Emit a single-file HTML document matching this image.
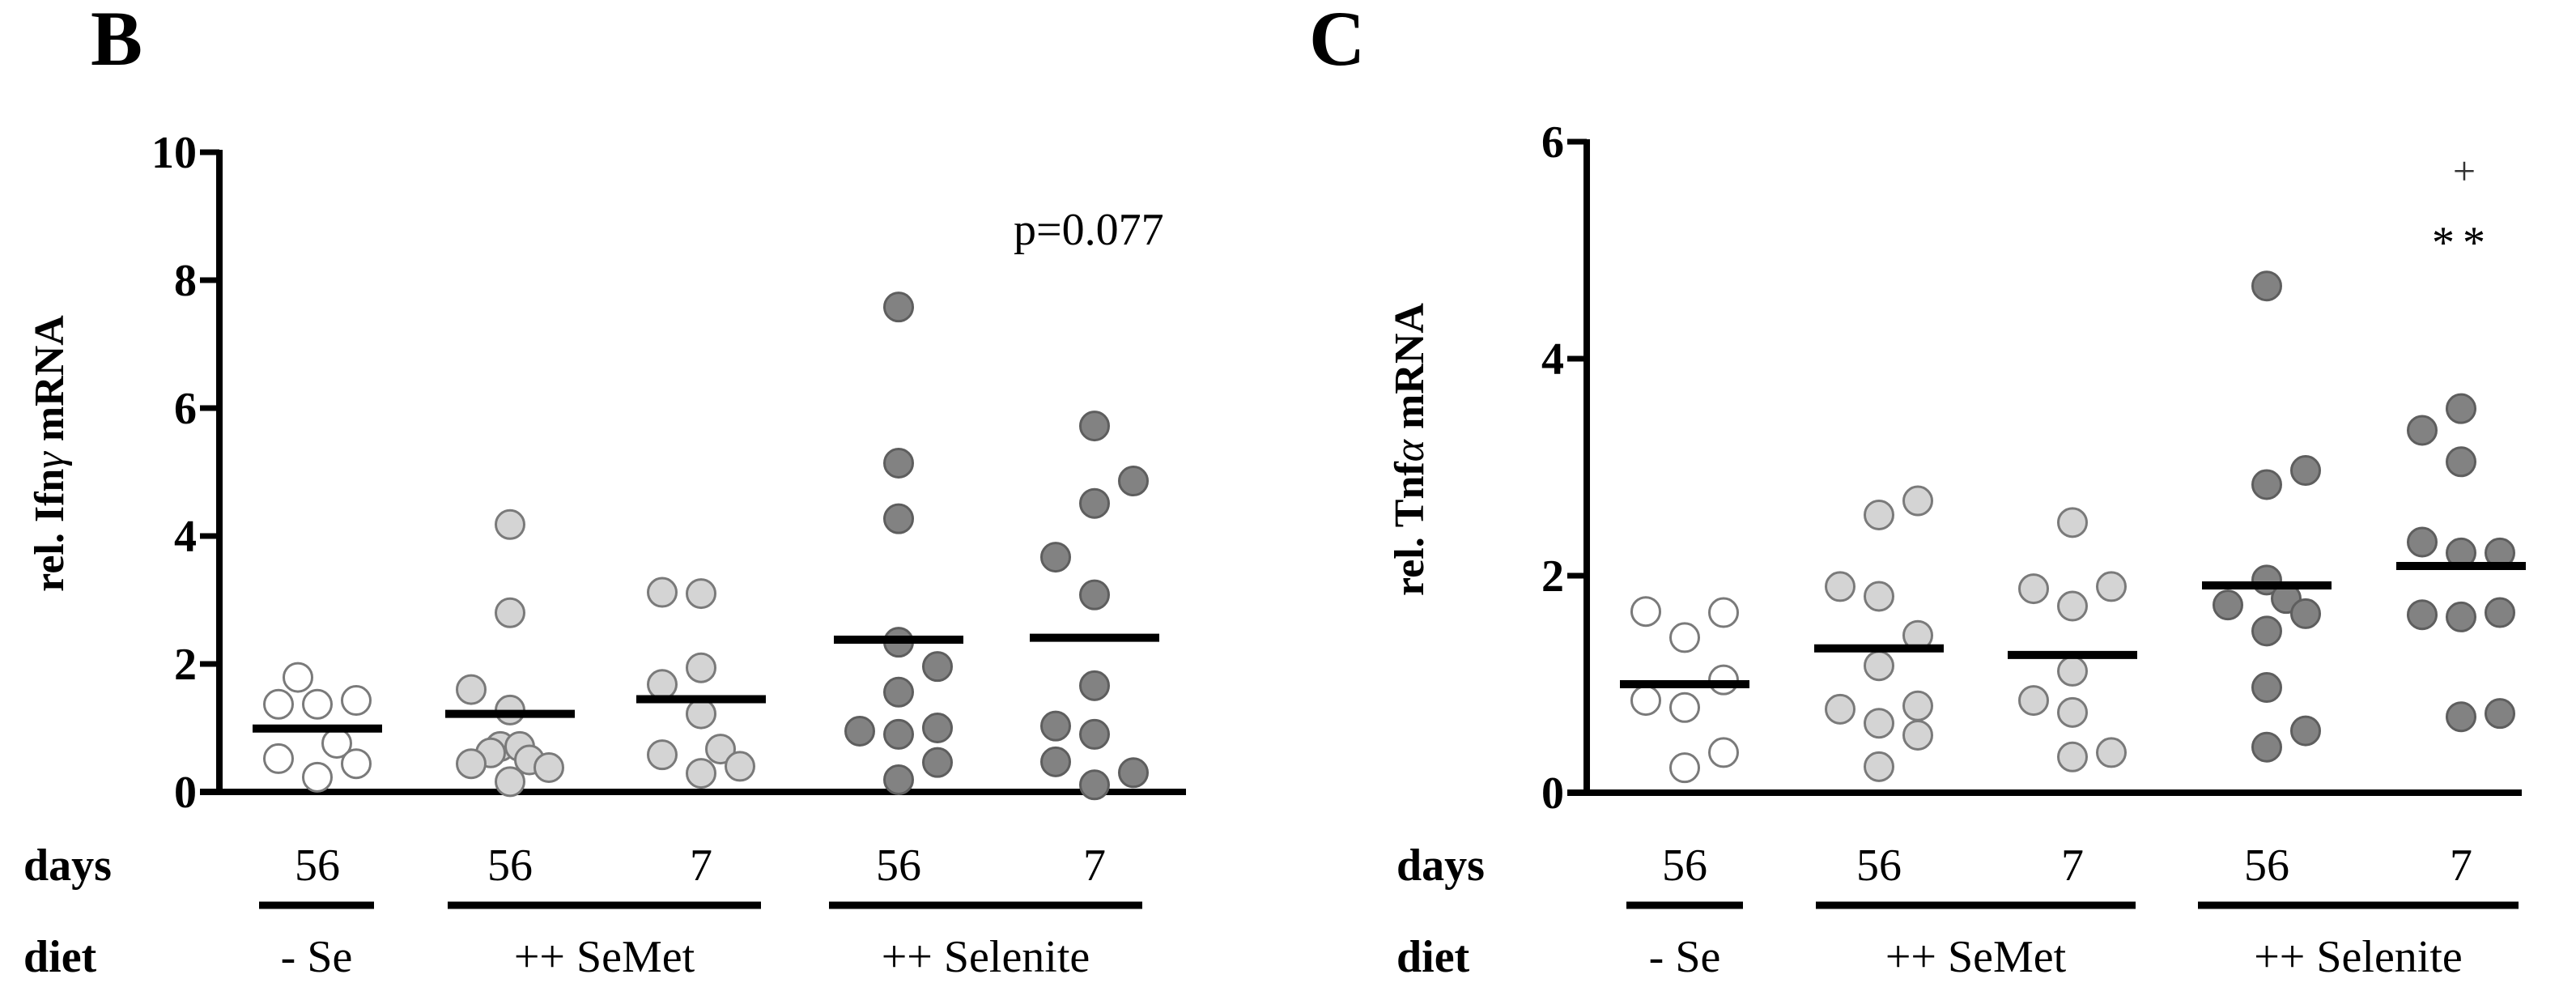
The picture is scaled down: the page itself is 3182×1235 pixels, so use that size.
<!DOCTYPE html>
<html><head><meta charset="utf-8">
<style>
html,body{margin:0;padding:0;background:#fff;}
svg{display:block;font-family:"Liberation Serif",serif;}
</style></head>
<body>
<svg id="fig" width="3182" height="1235" viewBox="0 0 3182 1235" xmlns="http://www.w3.org/2000/svg">
<rect width="3182" height="1235" fill="#fff"/>
<g id="panelB"></g>
<g id="panelC"></g>
</svg>
<script>
// ---- shared categories ----
const groupDays = ["56","56","7","56","7"];
const dietLabels = ["- Se","++ SeMet","++ Selenite"];
const groupFills = ["#ffffff","#d4d4d4","#d4d4d4","#828282","#828282"];

// ---- panel B (Ifn gamma) values: [value, column] ----
const ifnTicks = [0,2,4,6,8,10];
const ifnG1 = [[1.79,-1],[1.37,-2],[1.37,0],[1.43,2],[0.76,1],[0.52,-2],[0.44,2],[0.23,0]];
const ifnG2 = [[4.18,0],[2.8,0],[1.6,-2],[1.28,0],[0.71,-0.5],[0.71,0.5],[0.61,-1],[0.44,-2],[0.5,1],[0.38,2],[0.16,0]];
const ifnG3 = [[3.12,-2],[3.1,0],[1.94,0],[1.68,-2],[1.22,0],[0.58,-2],[0.67,1],[0.4,2],[0.29,0]];
const ifnG4 = [[7.58,0],[5.14,0],[4.27,0],[2.34,0],[1.96,2],[1.56,0],[0.95,-2],[0.9,0],[1.0,2],[0.46,2],[0.19,0]];
const ifnG5 = [[5.72,0],[4.86,2],[4.51,0],[3.67,-2],[3.08,0],[1.66,0],[1.03,-2],[0.9,0],[0.47,-2],[0.3,2],[0.11,0]];
const ifnMeans = [0.99,1.22,1.45,2.38,2.41];

// ---- panel C (Tnf alpha) values ----
const tnfTicks = [0,2,4,6];
const tnfG1 = [[1.67,-2],[1.66,2],[1.43,0],[1.04,2],[0.85,-2],[0.785,0],[0.37,2],[0.23,0]];
const tnfG2 = [[2.69,2],[2.56,0],[1.9,-2],[1.81,0],[1.45,2],[1.17,0],[0.77,-2],[0.8,2],[0.64,0],[0.53,2],[0.24,0]];
const tnfG3 = [[2.49,0],[1.88,-2],[1.9,2],[1.72,0],[1.12,0],[0.85,-2],[0.74,0],[0.37,2],[0.33,0]];
const tnfG4 = [[4.67,0],[2.84,0],[2.97,2],[1.96,0],[1.73,-2],[1.79,1],[1.65,2],[1.49,0],[0.97,0],[0.57,2],[0.42,0]];
const tnfG5 = [[3.54,0],[3.34,-2],[3.05,0],[2.31,-2],[2.21,0],[2.21,2],[1.64,-2],[1.62,0],[1.66,2],[0.7,0],[0.73,2]];
const tnfMeans = [1.0,1.33,1.27,1.91,2.09];

const NS="http://www.w3.org/2000/svg";
function mk(parent,tag,attrs,text){
  const e=document.createElementNS(NS,tag);
  for(const k in attrs) e.setAttribute(k,attrs[k]);
  if(text!==undefined) e.textContent=text;
  parent.appendChild(e); return e;
}

function drawPanel(g, cfg){
  const y = v => cfg.y0 - (v/cfg.vmax)*(cfg.y0-cfg.yTop);
  const x = (gi,col) => cfg.centers[gi] + col*24;
  // panel letter
  const L = mk(g,'text',{x:cfg.letterX,y:80,'font-size':96,'font-weight':'bold'},cfg.letter);
  
  
  // y axis title
  const T = mk(g,'text',{x:0,y:0,'font-size':52,'font-weight':'bold','text-anchor':'middle',transform:`translate(${cfg.titleX},${cfg.titleY}) rotate(-90)`});
  
  
  mk(T,'tspan',{},cfg.titleA);
  mk(T,'tspan',{'font-style':'italic','font-weight':'normal'},cfg.titleGreek);
  mk(T,'tspan',{},' mRNA');
  // axes
  const ya = mk(g,'line',{x1:cfg.axisX,y1:y(cfg.vmax)-3,x2:cfg.axisX,y2:cfg.y0+4,stroke:'#000','stroke-width':8});
  
  
  const xa = mk(g,'line',{x1:cfg.axisX-24,y1:cfg.y0,x2:cfg.xEnd,y2:cfg.y0,stroke:'#000','stroke-width':8});
  
  
  cfg.ticks.forEach(t=>{
    const tk = mk(g,'line',{x1:cfg.axisX-24,y1:y(t),x2:cfg.axisX,y2:y(t),stroke:'#000','stroke-width':7});
    
    
    const tl = mk(g,'text',{x:cfg.axisX-28,y:y(t)+19,'font-size':56,'font-weight':'bold','text-anchor':'end'},String(t));
    
    
  });
  // points
  cfg.groups.forEach((pts,gi)=>{
    pts.forEach(p=>{
      const c = mk(g,'circle',{cx:x(gi,p[1]),cy:y(p[0]),r:17.5,fill:groupFills[gi],stroke:gi>=3?'#5e5e5e':'#7a7a7a','stroke-width':3});
      
      
    });
  });
  // means
  cfg.means.forEach((m,gi)=>{
    const ml = mk(g,'line',{x1:cfg.centers[gi]-80,y1:y(m),x2:cfg.centers[gi]+80,y2:y(m),stroke:'#000','stroke-width':10});
    
    
  });
  // days row
  const dl = mk(g,'text',{x:cfg.rowLabelX,y:1087,'font-size':56,'font-weight':'bold'},'days');
  
  
  groupDays.forEach((d,gi)=>{
    const t = mk(g,'text',{x:cfg.centers[gi],y:1087,'font-size':56,'text-anchor':'middle'},d);
    
    
  });
  cfg.brackets.forEach(b=>{
    const l = mk(g,'line',{x1:b[0],y1:1118,x2:b[1],y2:1118,stroke:'#000','stroke-width':9});
    
    
  });
  const dt = mk(g,'text',{x:cfg.rowLabelX,y:1200,'font-size':56,'font-weight':'bold'},'diet');
  
  
  dietLabels.forEach((d,i)=>{
    const b = cfg.brackets[i];
    const t = mk(g,'text',{x:(b[0]+b[1])/2,y:1200,'font-size':56,'text-anchor':'middle'},d);
    
    
  });
  return y;
}

const yB = drawPanel(document.getElementById('panelB'),{
  letter:'B',letterX:112,titleX:78,titleY:560,titleA:'rel. Ifn',titleGreek:'γ',
  axisX:271,y0:978,yTop:188,vmax:10,xEnd:1465,ticks:ifnTicks,
  centers:[392,630,866,1110,1352],groups:[ifnG1,ifnG2,ifnG3,ifnG4,ifnG5],means:ifnMeans,
  rowLabelX:29,brackets:[[320,462],[553,940],[1024,1411]]
});
const pB = mk(document.getElementById('panelB'),'text',{x:1252,y:302,'font-size':56},'p=0.077');



const yC = drawPanel(document.getElementById('panelC'),{
  letter:'C',letterX:1617,titleX:1758,titleY:555,titleA:'rel. Tnf',titleGreek:'α',
  axisX:1960,y0:979,yTop:175,vmax:6,xEnd:3115,ticks:tnfTicks,
  centers:[2081,2321,2560,2800,3040],groups:[tnfG1,tnfG2,tnfG3,tnfG4,tnfG5],means:tnfMeans,
  rowLabelX:1725,brackets:[[2009,2153],[2243,2638],[2715,3111]]
});
const plus = mk(document.getElementById('panelC'),'text',{x:3044,y:228,'font-size':50,'text-anchor':'middle',fill:'#333'},'+');


const stars = mk(document.getElementById('panelC'),'text',{x:3042,y:318,'font-size':56,'text-anchor':'middle','letter-spacing':'10'},'**');


</script>
</body></html>
